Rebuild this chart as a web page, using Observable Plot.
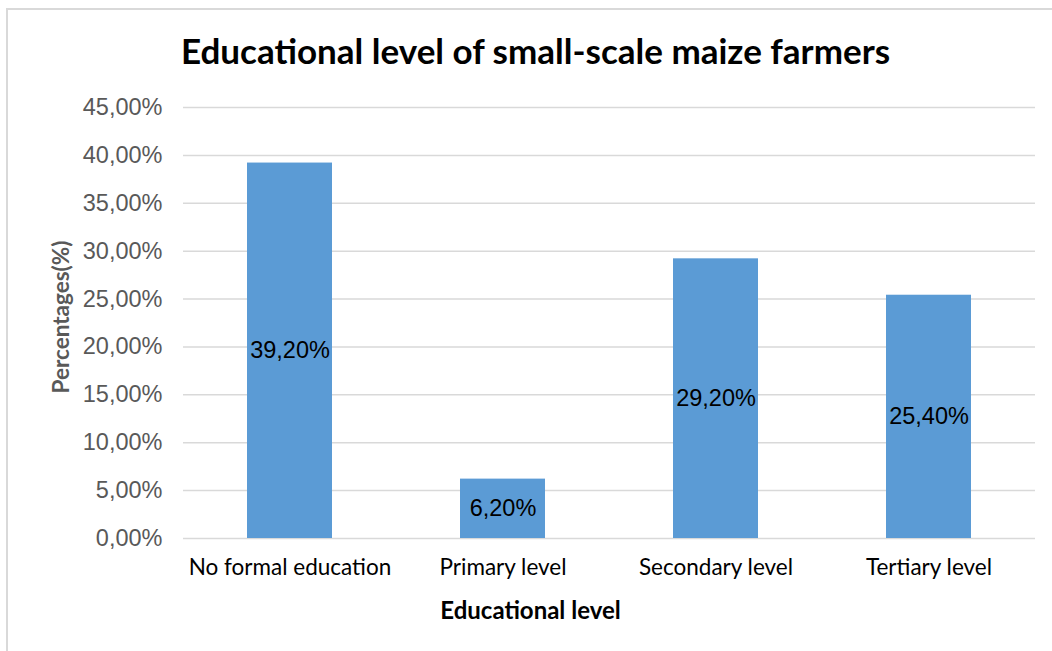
<!DOCTYPE html>
<html>
<head>
<meta charset="utf-8">
<script src="https://cdn.jsdelivr.net/npm/d3@7"></script>
<script src="https://cdn.jsdelivr.net/npm/@observablehq/plot@0.6"></script>
<style>
  html, body { margin: 0; padding: 0; background: #fff; }
  #wrap { position: relative; width: 1052px; height: 651px; overflow: hidden; background: #fff; }
  #frame { position: absolute; left: 6px; top: 8px; width: 1100px; height: 700px; border: 2px solid #d9d9d9; box-sizing: border-box; }
  #chart { position: absolute; left: 0; top: 0; }
</style>
</head>
<body>
<div id="wrap"><div id="frame"></div><div id="chart"></div></div>
<script>
const categories = ["No formal education", "Primary level", "Secondary level", "Tertiary level"];
const values = [0.392, 0.062, 0.292, 0.254];
const yTicks = [0, 0.05, 0.10, 0.15, 0.20, 0.25, 0.30, 0.35, 0.40, 0.45];
const titleText = "Educational level of small-scale maize farmers";
const xTitle = "Educational level";
const yTitle = "Percentages(%)";

const data = categories.map((c, i) => ({category: c, value: values[i]}));
const fmt = d => (d * 100).toFixed(2).replace(".", ",") + "%";

const calibri = "Lato, 'Open Sans', sans-serif";
const arial = "'Liberation Sans', Arial, sans-serif";

const plot = Plot.plot({
  width: 1052,
  height: 651,
  marginLeft: 183,
  marginRight: 17,
  marginTop: 107,
  marginBottom: 113,
  style: {background: "transparent", overflow: "visible"},
  x: {domain: categories, paddingInner: 0.6, paddingOuter: 0.3, label: null},
  y: {domain: [0, 0.45], label: null},
  marks: [
    Plot.gridY(yTicks, {stroke: "#d9d9d9", strokeOpacity: 1, strokeWidth: 1.5}),
    Plot.barY(data, {x: "category", y: "value", fill: "#5b9bd5"}),
    Plot.text(data, {x: "category", y: d => d.value / 2, text: d => fmt(d.value), fill: "#000", fontSize: 23.5, fontFamily: arial}),
    Plot.axisY({ticks: yTicks, tickFormat: fmt, tickSize: 0, tickPadding: 21, fontSize: 23.5, fontFamily: arial, color: "#595959", label: null}),
    Plot.axisX({tickSize: 0, tickPadding: 21, fontSize: 22.5, fontFamily: calibri, color: "#000", label: null}),
    Plot.text([titleText], {frameAnchor: "top", lineAnchor: "middle", dx: -74, dy: -55, fontSize: 35, fontWeight: "bold", fontFamily: calibri, fill: "#000"}),
    Plot.text([xTitle], {frameAnchor: "bottom", lineAnchor: "middle", dx: -79, dy: 73, fontSize: 24, fontWeight: "bold", fontFamily: calibri, fill: "#000"}),
    Plot.text([yTitle], {frameAnchor: "left", textAnchor: "middle", lineAnchor: "middle", dx: -122, dy: -6, rotate: -90, fontSize: 22.5, fontWeight: "bold", fontFamily: calibri, fill: "#595959"})
  ]
});
document.getElementById("chart").appendChild(plot);
</script>
</body>
</html>
